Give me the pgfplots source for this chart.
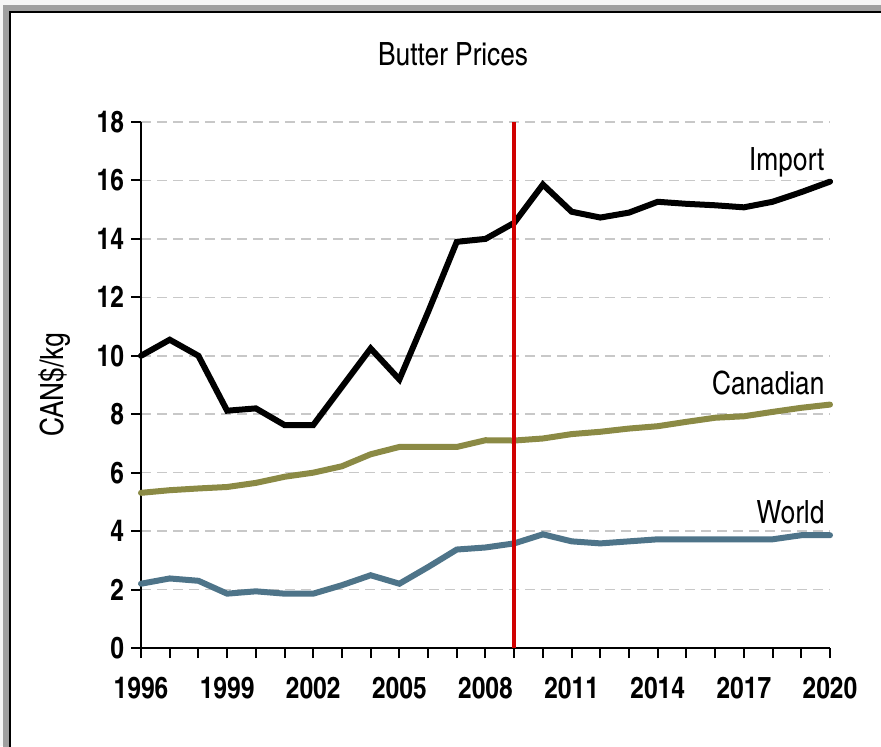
\documentclass[border=0pt]{standalone}
\usepackage{fontspec}
\setmainfont{texgyreheroscn}[Extension=.otf, UprightFont=*-regular, BoldFont=*-bold]
\usepackage{pgfplots}
\pgfplotsset{compat=1.18}
\definecolor{canad}{RGB}{139,138,69}
\definecolor{world}{RGB}{78,116,137}
\definecolor{vred}{RGB}{208,0,0}
\definecolor{gridc}{RGB}{200,200,200}
\begin{document}
\begin{tikzpicture}
\path[use as bounding box] (0,0) rectangle (440.5pt,373pt);
\fill[gray!8] (0,0) rectangle (440.5pt,373pt);
\fill[gray!75] (1.5pt,-5pt) rectangle (450pt,370.5pt);
\fill[white] (5.5pt,-5pt) rectangle (450pt,366.5pt);
\draw[black,line width=1pt] (5pt,-5pt) -- (5pt,367pt) -- (450pt,367pt);
\begin{axis}[
  at={(70.5pt,49pt)}, anchor=south west,
  width=344.5pt, height=263pt, scale only axis,
  xmin=1996, xmax=2020, ymin=0, ymax=18,
  axis lines=left,
  axis line style={-, line width=1pt},
  xtick={1996,1999,...,2020},
  minor xtick={1996,...,2020},
  ytick={0,2,...,18},
  tick align=outside,
  major tick length=5pt, minor tick length=5pt,
  every tick/.style={black, line width=1pt},
  ymajorgrids,
  major grid style={gridc, line width=0.75pt, dash pattern=on 5pt off 3pt},
  /pgf/number format/assume math mode=true,
  /pgf/number format/1000 sep={},
  tick label style={font=\fontsize{15}{18}\selectfont\bfseries},
  xticklabel style={yshift=-6pt},
  clip=false,
]
\addplot[black, line width=3pt, line cap=round] coordinates {
(1996,10.0) (1997,10.55) (1998,10.0) (1999,8.12) (2000,8.2) (2001,7.63) (2002,7.63)
(2003,8.94) (2004,10.25) (2005,9.19) (2006,11.5) (2007,13.9) (2008,14.0) (2009,14.55)
(2010,15.86) (2011,14.93) (2012,14.73) (2013,14.9) (2014,15.27) (2015,15.2) (2016,15.15)
(2017,15.08) (2018,15.27) (2019,15.6) (2020,15.96)};
\addplot[canad, line width=3pt, line cap=round] coordinates {
(1996,5.31) (1997,5.4) (1998,5.46) (1999,5.51) (2000,5.65) (2001,5.86) (2002,6.0)
(2003,6.22) (2004,6.63) (2005,6.88) (2006,6.88) (2007,6.88) (2008,7.11) (2009,7.1)
(2010,7.17) (2011,7.32) (2012,7.4) (2013,7.51) (2014,7.59) (2015,7.74) (2016,7.88)
(2017,7.93) (2018,8.08) (2019,8.22) (2020,8.33)};
\addplot[world, line width=3pt, line cap=round] coordinates {
(1996,2.2) (1997,2.38) (1998,2.3) (1999,1.86) (2000,1.94) (2001,1.86) (2002,1.86)
(2003,2.15) (2004,2.49) (2005,2.2) (2006,2.77) (2007,3.37) (2008,3.44) (2009,3.58)
(2010,3.89) (2011,3.65) (2012,3.58) (2013,3.65) (2014,3.72) (2015,3.72) (2016,3.72)
(2017,3.72) (2018,3.72) (2019,3.86) (2020,3.86)};
\addplot[vred, line width=2pt] coordinates {(2009,0) (2009,18)};
\node[anchor=base east, font=\fontsize{16}{19}\selectfont] at (axis cs:2020.05,16.33) {Import};
\node[anchor=base east, font=\fontsize{16}{19}\selectfont] at (axis cs:2020.05,8.66) {Canadian};
\node[anchor=base east, font=\fontsize{16}{19}\selectfont] at (axis cs:2020.05,4.25) {World};
\node[anchor=base, font=\fontsize{16}{19}\selectfont] at (axis description cs:0.453,1.1065) {Butter Prices};
\node[rotate=90, font=\fontsize{16}{19}\selectfont] at (axis description cs:-0.1248,0.5) {CAN\$/kg};
\end{axis}
\end{tikzpicture}
\end{document}
